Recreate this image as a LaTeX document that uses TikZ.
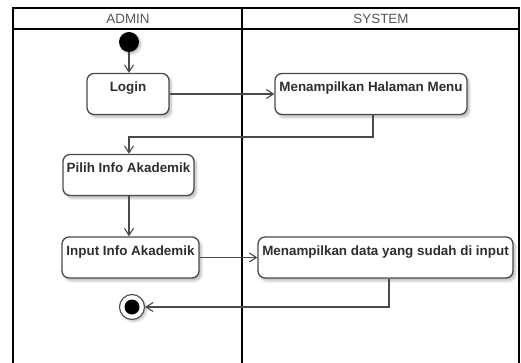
\documentclass[tikz,border=0pt]{standalone}
\usepackage{fontspec}
\setmainfont{Liberation Sans}
\usetikzlibrary{arrows.meta,shadows.blur}
\definecolor{txt}{HTML}{2E2E2E}
\definecolor{edge}{HTML}{4A4A4A}
\definecolor{hdr}{HTML}{555555}
\tikzset{
  lane/.style={line width=1.6pt, draw=black},
  act/.style={draw=edge, line width=1.3pt, rounded corners=7pt, fill=white,
    font=\fontsize{13.4}{15}\selectfont\bfseries, text=txt,
    inner xsep=0pt, inner ysep=0pt, text height=18pt, text depth=23pt,
    blur shadow={shadow xshift=2.5pt, shadow yshift=-3pt, shadow opacity=25, shadow blur steps=6}},
  flow/.style={draw=edge, line width=1.1pt,
    -{Straight Barb[length=7pt,width=9pt,line width=1.1pt]}},
  lanetitle/.style={font=\fontsize{13.4}{15}\selectfont, text=hdr}
}
\begin{document}
\begin{tikzpicture}[x=1pt,y=-1pt]
\useasboundingbox (0,0) rectangle (521,363);
% swimlane frame
\draw[lane] (13,363) -- (13,8) -- (519,8) -- (519,363);
\draw[lane] (13,29) -- (519,29);
\draw[lane] (242,8) -- (242,363);
\node[lanetitle] (hadmin) at (128,19) {ADMIN};
\node[lanetitle] (hsystem) at (381,19) {SYSTEM};

% start and end states
\node[circle, fill=black, minimum size=20pt, inner sep=0pt,
  blur shadow={shadow xshift=2pt, shadow yshift=-2pt, shadow opacity=25}] (start) at (129,42) {};
\node[circle, draw=edge, line width=1.1pt, fill=white, minimum size=25pt, inner sep=0pt,
  blur shadow={shadow xshift=2pt, shadow yshift=-2pt, shadow opacity=25}] (end) at (132,307) {};
\node[circle, fill=black, minimum size=15pt, inner sep=0pt] (endcore) at (end.center) {};

% activities
\node[act, minimum width=82pt] (login) at (128,94) {Login};
\node[act, minimum width=192pt] (menu) at (371,94) {Menampilkan Halaman Menu};
\node[act, minimum width=131pt] (pilih) at (128.5,175) {Pilih Info Akademik};
\node[act, minimum width=137pt] (input) at (130.5,257.5) {Input Info Akademik};
\node[act, minimum width=255pt] (data) at (385.5,257.5) {Menampilkan data yang sudah di input};

% transitions
\draw[flow] (start) -- (start |- login.north);
\draw[flow] (login.east) -- (menu.west);
\draw[flow] (menu.south -| 373,0) -- (373,137) -- (129,137) -- (pilih.north -| 129,0);
\draw[flow] (pilih.south -| 129,0) -- (input.north -| 129,0);
\draw[flow] (input.east) -- (data.west);
\draw[flow] (data.south -| 389,0) -- (389,307) -- (end.east);
\end{tikzpicture}
\end{document}
